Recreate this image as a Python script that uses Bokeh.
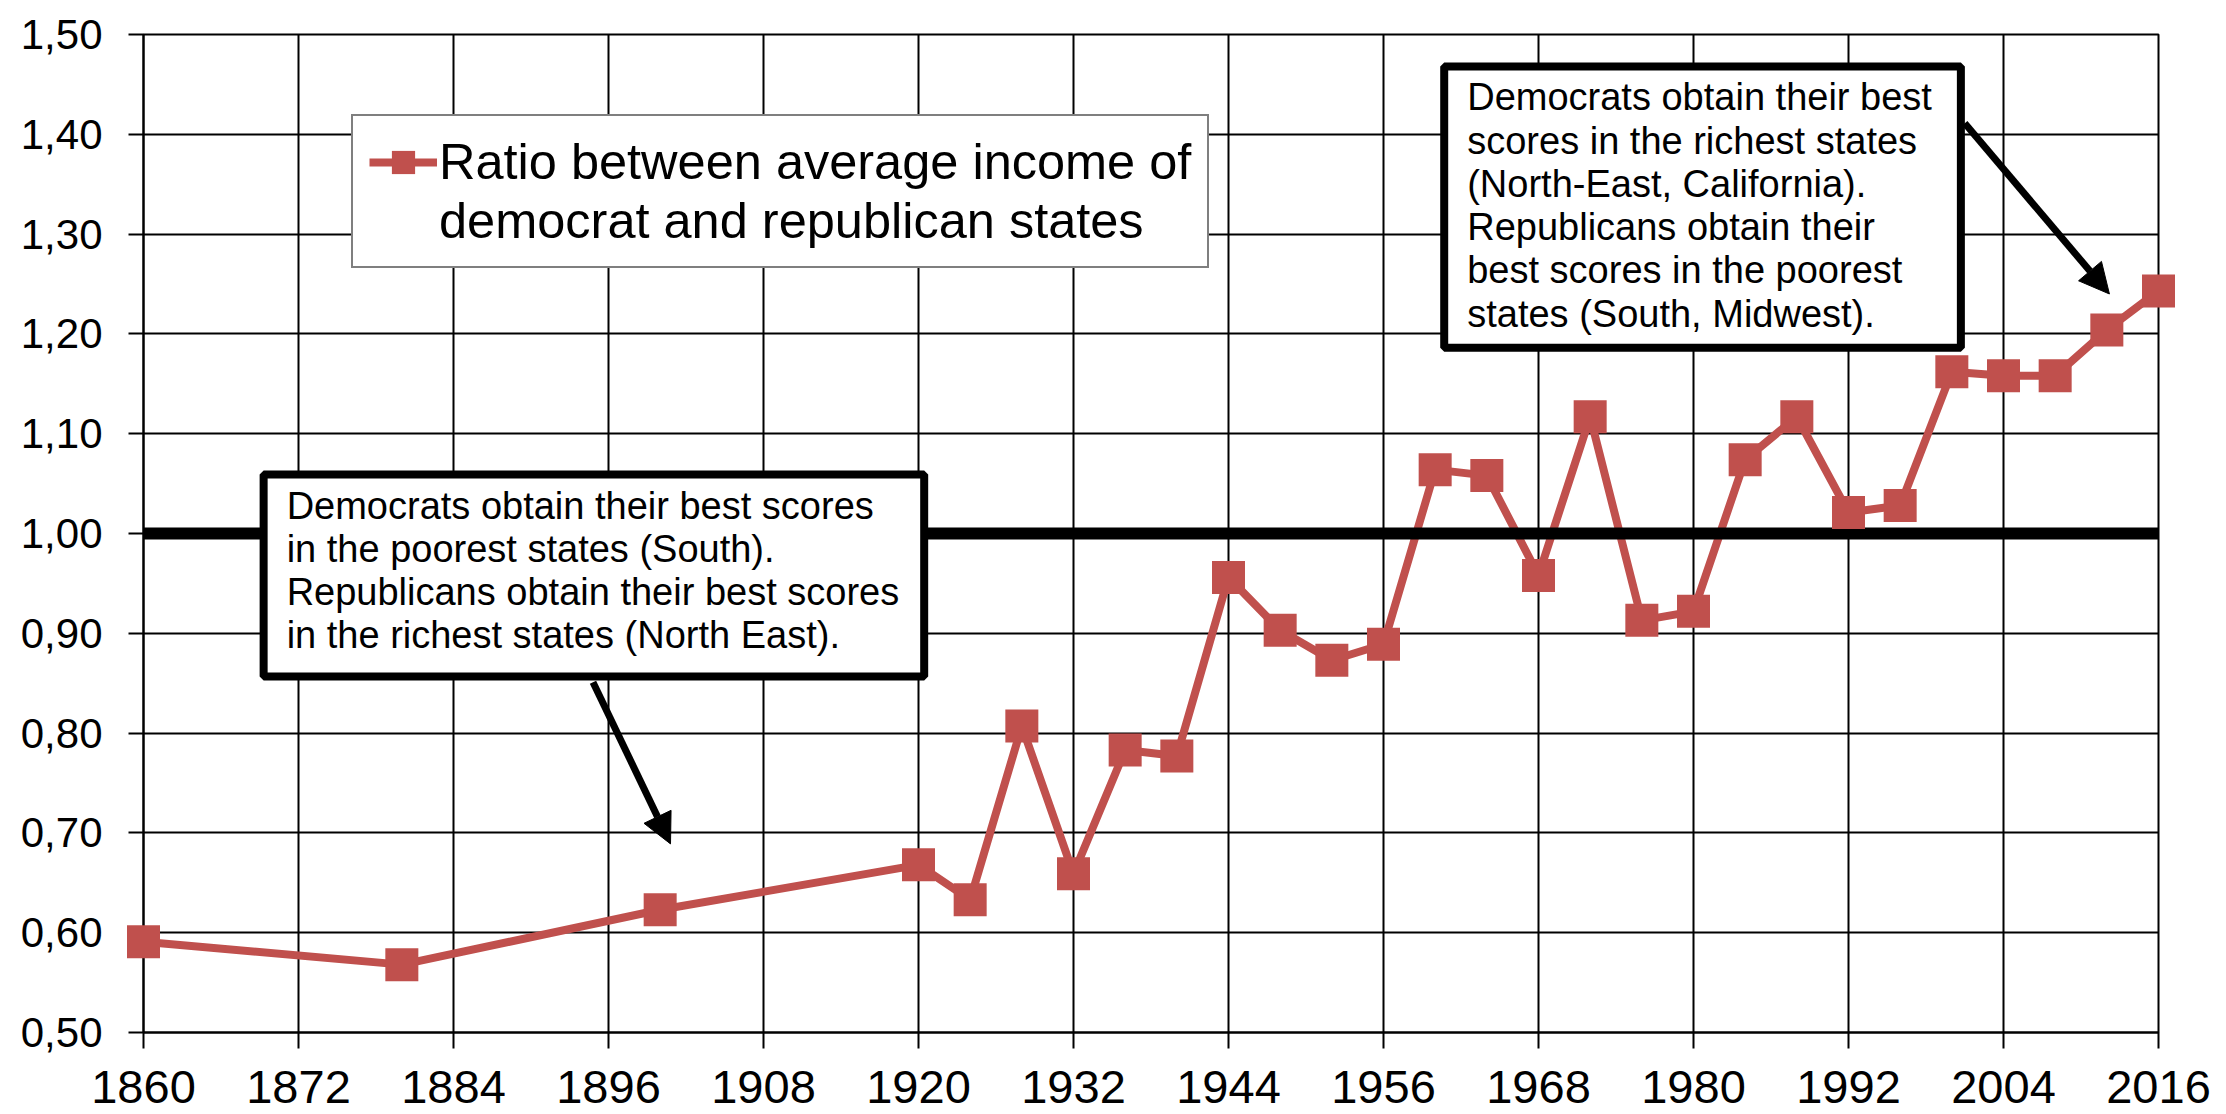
from bokeh.plotting import figure
from bokeh.models import (Range1d, FixedTicker, Span, Label, Arrow, NormalHead,
                          Legend, LegendItem, ColumnDataSource)
from bokeh.embed import file_html
from bokeh.resources import INLINE

# ---- data ----
years = [1860, 1880, 1900, 1920, 1924, 1928, 1932, 1936, 1940, 1944, 1948, 1952,
         1956, 1960, 1964, 1968, 1972, 1976, 1980, 1984, 1988, 1992, 1996, 2000,
         2004, 2008, 2012, 2016]
ratio = [0.591, 0.568, 0.623, 0.668, 0.633, 0.807, 0.659, 0.783, 0.777, 0.956,
         0.903, 0.873, 0.889, 1.064, 1.058, 0.958, 1.117, 0.913, 0.922, 1.074,
         1.117, 1.021, 1.028, 1.162, 1.158, 1.158, 1.204, 1.243]

x_ticks = [1860, 1872, 1884, 1896, 1908, 1920, 1932, 1944, 1956, 1968, 1980, 1992, 2004, 2016]
y_ticks = [0.5, 0.6, 0.7, 0.8, 0.9, 1.0, 1.1, 1.2, 1.3, 1.4, 1.5]
y_tick_labels = ["0,50", "0,60", "0,70", "0,80", "0,90", "1,00", "1,10", "1,20", "1,30", "1,40", "1,50"]
parity_level = 1.0

series_name_lines = ["Ratio between average income of", "democrat and republican states"]
note_left = ("Democrats obtain their best scores\n"
             "in the poorest states (South).\n"
             "Republicans obtain their best scores\n"
             "in the richest states (North East).")
note_right = ("Democrats obtain their best\n"
              "scores in the richest states\n"
              "(North-East, California).\n"
              "Republicans obtain their\n"
              "best scores in the poorest\n"
              "states (South, Midwest).")

RED = "#C0504D"
FONT = "Liberation Sans"

src = ColumnDataSource(dict(year=years, ratio=ratio))

p = figure(width=2226, height=1114, output_backend="svg", toolbar_location=None,
           x_range=Range1d(1860, 2016), y_range=Range1d(0.5, 1.5),
           min_border_left=143, min_border_right=68, min_border_top=34,
           min_border_bottom=82)
p.outline_line_color = "black"
p.outline_line_width = 2
p.background_fill_color = "white"
p.border_fill_color = "white"

xt = FixedTicker(ticks=x_ticks)
yt = FixedTicker(ticks=y_ticks)
p.xaxis.ticker = xt
p.yaxis.ticker = yt
p.xgrid.ticker = xt
p.ygrid.ticker = yt
for g in (p.xgrid, p.ygrid):
    g.grid_line_color = "black"
    g.grid_line_width = 2
    g.grid_line_alpha = 1.0

p.yaxis.major_label_overrides = {t: l for t, l in zip(y_ticks, y_tick_labels)}

for ax in (p.xaxis, p.yaxis):
    ax.axis_line_color = "black"
    ax.axis_line_width = 2
    ax.major_tick_line_color = "black"
    ax.major_tick_line_width = 2
    ax.minor_tick_line_color = None
    ax.major_tick_in = 0
    ax.major_label_text_font = FONT
    ax.major_label_text_color = "black"
p.xaxis.major_tick_out = 16
p.yaxis.major_tick_out = 15
p.xaxis.major_label_text_font_size = "47px"
p.yaxis.major_label_text_font_size = "42px"
p.xaxis.major_label_standoff = 22
p.yaxis.major_label_standoff = 26

line_r = p.line("year", "ratio", source=src, line_color=RED, line_width=8)
pts_r = p.scatter("year", "ratio", source=src, marker="square", size=33,
                  fill_color=RED, line_color=None, level="overlay")

p.add_layout(Span(location=parity_level, dimension="width", line_color="black",
                  line_width=12))

# arrows (drawn before the boxes so the boxes cover their starts)
p.add_layout(Arrow(x_start=1894.8, y_start=0.851, x_end=1900.8, y_end=0.689,
                   line_width=7, line_color="black",
                   end=NormalHead(size=30, fill_color="black", line_color="black")))
p.add_layout(Arrow(x_start=2001.0, y_start=1.411, x_end=2012.2, y_end=1.240,
                   line_width=7, line_color="black",
                   end=NormalHead(size=30, fill_color="black", line_color="black")))

common = dict(text_font=FONT, text_font_size="38px", text_color="black",
              text_align="left", text_baseline="top", text_line_height=1.03,
              border_line_color="black", border_line_width=8,
              background_fill_color="white", background_fill_alpha=1.0)
# padding order: (left, right, top, bottom)
p.add_layout(Label(x=1869.3, y=1.059, text=note_left, padding=(23, 25, 10, 20), **common))
p.add_layout(Label(x=1960.7, y=1.468, text=note_right, padding=(23, 29, 10, 13), **common))

legend = Legend(items=[LegendItem(label=series_name_lines[0], renderers=[line_r, pts_r]),
                       LegendItem(label=series_name_lines[1], renderers=[])],
                location=(208, 764), orientation="vertical",
                border_line_color="black", border_line_width=2,
                background_fill_color="white", background_fill_alpha=1.0,
                label_text_font=FONT, label_text_font_size="50.5px",
                label_text_color="black", glyph_width=68, glyph_height=58,
                label_height=58, label_standoff=2, padding=16, margin=0, spacing=0)
p.add_layout(legend)

open("out.html", "w").write(file_html(p, INLINE))
